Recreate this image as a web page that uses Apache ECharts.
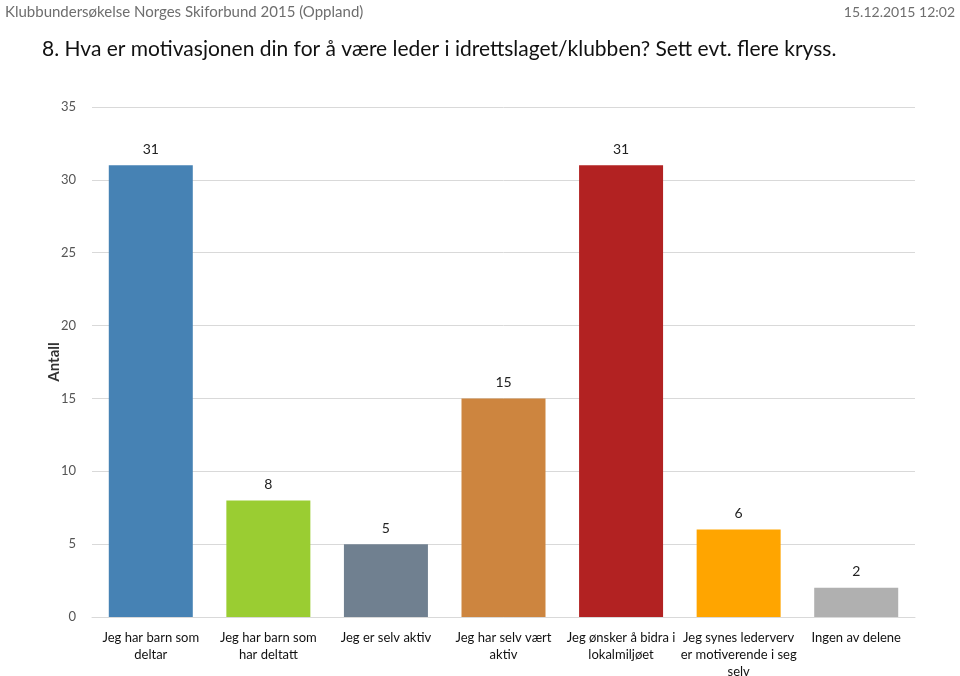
<!DOCTYPE html>
<html>
<head>
<meta charset="utf-8">
<script src="https://cdn.jsdelivr.net/npm/echarts@6/dist/echarts.min.js"></script>
<style>
  html, body { margin: 0; padding: 0; background: #fff; }
  #chart { width: 960px; height: 676px; }
</style>
</head>
<body>
<div id="chart"></div>
<script>
// kategorier og verdier
var categories = [
  'Jeg har barn som\ndeltar',
  'Jeg har barn som\nhar deltatt',
  'Jeg er selv aktiv',
  'Jeg har selv vært\naktiv',
  'Jeg ønsker å bidra i\nlokalmiljøet',
  'Jeg synes lederverv\ner motiverende i seg\nselv',
  'Ingen av delene'
];
var values = [31, 8, 5, 15, 31, 6, 2];
var colors = ['#4682B4', '#9ACD32', '#708090', '#CD853F', '#B22222', '#FFA500', '#B0B0B0'];

var font = 'Lato, "Open Sans", sans-serif';
var chart = echarts.init(document.getElementById('chart'));
chart.setOption({
  animation: false,
  textStyle: { fontFamily: font },
  title: [
    {
      text: 'Klubbundersøkelse Norges Skiforbund 2015 (Oppland)',
      left: 0, top: 0,
      textStyle: { fontSize: 15, fontWeight: 'normal', color: '#6e6e6e', fontFamily: font }
    },
    {
      text: '15.12.2015 12:02',
      right: 0, top: 0,
      textStyle: { fontSize: 14, fontWeight: 'normal', color: '#6e6e6e', fontFamily: font }
    },
    {
      text: '8. Hva er motivasjonen din for å være leder i idrettslaget/klubben? Sett evt. flere kryss.',
      left: 37, top: 34,
      textStyle: { fontSize: 21, fontWeight: 'normal', color: '#111', fontFamily: font }
    }
  ],
  grid: { left: 92, right: 45, top: 107, bottom: 59, containLabel: false, outerBoundsMode: 'none' },
  xAxis: {
    type: 'category',
    data: categories,
    axisLine: { show: true, lineStyle: { color: '#d9d9d9' } },
    axisTick: { show: false },
    axisLabel: { interval: 0, fontSize: 13, color: '#111', lineHeight: 17, margin: 12 }
  },
  yAxis: {
    type: 'value',
    min: 0, max: 35, interval: 5,
    name: 'Antall',
    nameLocation: 'middle',
    nameGap: 30,
    nameMoveOverlap: false,
    nameRotate: 90,
    nameTextStyle: { fontSize: 15, fontWeight: 'bold', color: '#333' },
    axisLine: { show: false },
    axisTick: { show: false },
    axisLabel: { fontSize: 13, color: '#555', margin: 16 },
    splitLine: { lineStyle: { color: '#d9d9d9' } }
  },
  series: [{
    type: 'bar',
    barWidth: 84,
    data: values.map(function (v, i) {
      return { value: v, itemStyle: { color: colors[i] } };
    }),
    label: { show: true, position: 'top', distance: 9, fontSize: 14, color: '#222' }
  }]
});
</script>
</body>
</html>
